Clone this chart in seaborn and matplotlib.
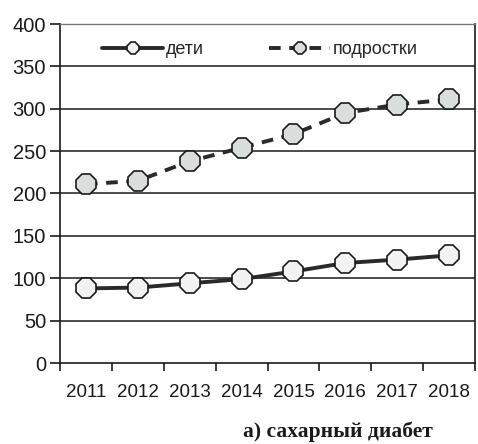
#!/usr/bin/env python3
"""Diabetes incidence, children vs adolescents, 2011-2018."""

import matplotlib
matplotlib.use("Agg")
import matplotlib.pyplot as plt
import pandas as pd
import seaborn as sns

YEARS = ["2011", "2012", "2013", "2014", "2015", "2016", "2017", "2018"]
CHILDREN = [88, 89, 94, 99, 108, 118, 122, 127]
TEENS = [211, 215, 238, 254, 270, 295, 305, 311]
SERIES = ["дети", "подростки"]
Y_TICKS = [0, 50, 100, 150, 200, 250, 300, 350, 400]
CAPTION = "а) сахарный диабет"


def build_frame() -> pd.DataFrame:
    rows = []
    for name, values in zip(SERIES, (CHILDREN, TEENS)):
        for i, (year, v) in enumerate(zip(YEARS, values)):
            rows.append({"pos": i, "year": year, "value": v, "series": name})
    return pd.DataFrame(rows)


def main() -> None:
    sns.set_theme(style="white")
    plt.rcParams["font.family"] = ["Liberation Sans", "DejaVu Sans"]
    df = build_frame()

    fig = plt.figure(figsize=(4.78, 4.44), dpi=100)
    ax = fig.add_axes([60 / 478, 1 - 363 / 444, 415 / 478, 339 / 444])

    for y in Y_TICKS[1:-1]:
        ax.axhline(y, color="#1a1a1a", lw=1.1, zorder=0)

    sns.lineplot(
        data=df, x="pos", y="value", hue="series", style="series",
        palette={"дети": "#2a2a2a", "подростки": "#2a2a2a"},
        dashes={"дети": "", "подростки": (3, 2.2)},
        markers={"дети": "8", "подростки": "8"},
        markersize=16, markeredgecolor="#1a1a1a", markeredgewidth=1.2,
        linewidth=2.8, ax=ax, legend=False,
    )
    faces = {"дети": "#f2f2f2", "подростки": "#d9dedd"}
    for line, name in zip(ax.get_lines()[-2:], SERIES):
        line.set_markerfacecolor(faces[name])
        line.set_label(name)

    ax.set_xlim(-0.5, len(YEARS) - 0.5)
    ax.set_ylim(0, 400)
    ax.set_yticks(Y_TICKS)
    ax.set_yticklabels([str(t) for t in Y_TICKS], fontsize=14.5)
    ax.set_xticks(range(len(YEARS)))
    ax.set_xticklabels(YEARS, fontsize=13.5)
    ax.set_xticks([i - 0.5 for i in range(len(YEARS) + 1)], minor=True)
    ax.tick_params(axis="x", which="major", length=0, pad=15, colors="#1a1a1a")
    ax.tick_params(axis="x", which="minor", length=6, width=1.2, direction="out",
                   color="#1a1a1a", bottom=True)
    ax.tick_params(axis="y", length=7, width=1.2, direction="out", left=True,
                   color="#1a1a1a", labelcolor="#1a1a1a", pad=3)
    ax.set_xlabel("")
    ax.set_ylabel("")

    for side in ("left", "right", "bottom"):
        ax.spines[side].set_color("#1a1a1a")
        ax.spines[side].set_linewidth(1.2)
    ax.spines["top"].set_color("#777777")
    ax.spines["top"].set_linewidth(1.0)

    ax.legend(loc="center left", bbox_to_anchor=(0.101, 0.925), ncol=2, frameon=False,
              fontsize=13, handlelength=3.4, columnspacing=3.6, handletextpad=0.15,
              markerscale=0.55, borderpad=0, borderaxespad=0)

    fig.text(338 / 478, 1 - 432 / 444, CAPTION, ha="center", va="center",
             fontsize=15.5, fontweight="bold", family=["Liberation Serif", "DejaVu Serif"],
             color="#1a1a1a")

    fig.savefig("out.png", dpi=100)
    plt.close(fig)


if __name__ == "__main__":
    main()
